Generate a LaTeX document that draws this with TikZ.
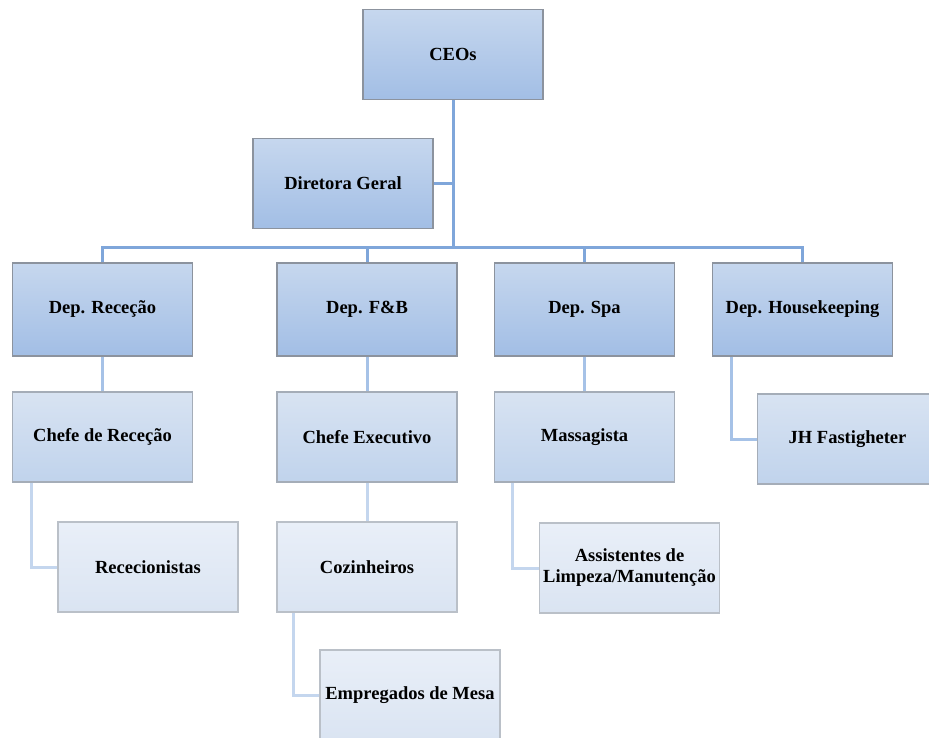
\documentclass[tikz,border=0pt]{standalone}
\usepackage{fontspec}
\setmainfont{Liberation Serif}
\definecolor{boxtopA}{HTML}{C6D7EE}
\definecolor{boxbotA}{HTML}{A2BEE5}
\definecolor{boxtopB}{HTML}{D8E3F2}
\definecolor{boxbotB}{HTML}{C0D3EC}
\definecolor{boxtopC}{HTML}{E9EFF8}
\definecolor{boxbotC}{HTML}{DAE4F2}
\definecolor{edgeA}{HTML}{8C939E}
\definecolor{edgeB}{HTML}{A5ADB8}
\definecolor{edgeC}{HTML}{BAC0C8}
\definecolor{lineA}{HTML}{7FA6DA}
\definecolor{lineB}{HTML}{A6C2E7}
\definecolor{lineC}{HTML}{C4D6EE}
\begin{document}
\begin{tikzpicture}[x=1pt,y=-1pt,
	box/.style={rectangle,minimum width=180pt,minimum height=90pt,inner sep=2pt,align=center,line width=1.3pt,
		font=\fontsize{18.5}{21}\selectfont\bfseries},
	lvlA/.style={box,draw=edgeA,top color=boxtopA,bottom color=boxbotA},
	lvlB/.style={box,draw=edgeB,top color=boxtopB,bottom color=boxbotB},
	lvlC/.style={box,draw=edgeC,top color=boxtopC,bottom color=boxbotC},
	linkA/.style={draw=lineA,line width=3pt},
	linkB/.style={draw=lineB,line width=3pt},
	linkC/.style={draw=lineC,line width=3pt}]
		\useasboundingbox (0,0) rectangle (929,737);
		\begin{scope}
		\clip (0,0) rectangle (929,737);
		
		% top levels
		\node[lvlA] (ceo) at (453,54.5) {CEOs};
		\node[lvlA] (dir) at (343,183.5) {Diretora Geral};
		\coordinate (bus) at (453,247);
		
		% departments
		\node[lvlA, minimum height=93pt] (rec) at (102.5,309.5) {Dep. Receção};
		\node[lvlA, minimum height=93pt] (fb) at (367,309.5) {Dep. F\&B};
		\node[lvlA, minimum height=93pt] (spa) at (584.5,309.5) {Dep. Spa};
		\node[lvlA, minimum height=93pt] (hk) at (802.5,309.5) {Dep. Housekeeping};
		
		% second level
		\node[lvlB] (chrec) at (102.5,437) {Chefe de Receção};
		\node[lvlB] (chex) at (367,437) {Chefe Executivo};
		\node[lvlB] (mass) at (584.5,437) {Massagista};
		\node[lvlB] (jh) at (847.5,439) {JH Fastigheter};
		
		% third level
		\node[lvlC] (recc) at (148,567) {Rececionistas};
		\node[lvlC] (coz) at (367,567) {Cozinheiros};
		\node[lvlC] (assi) at (629.5,568) {Assistentes de\\Limpeza/Manutenção};
		\node[lvlC] (emp) at (410,695) {Empregados de Mesa};
		
		% connectors
		\draw[linkA] (ceo.south) -- (bus);
		\draw[linkA] (dir.east) -- (dir.east -| bus);
		\draw[linkA] (rec.north) -- (rec.north |- bus) -- (hk.north |- bus) -- (hk.north);
		\draw[linkA] (fb.north) -- (fb.north |- bus);
		\draw[linkA] (spa.north) -- (spa.north |- bus);
		
		\draw[linkB] (rec.south) -- (chrec.north);
		\draw[linkB] (fb.south) -- (chex.north);
		\draw[linkB] (spa.south) -- (mass.north);
		\draw[linkB] ([xshift=20pt]hk.south west) |- (jh.west);
		
		\draw[linkC] ([xshift=20pt]chrec.south west) |- (recc.west);
		\draw[linkC] (chex.south) -- (coz.north);
		\draw[linkC] ([xshift=19pt]mass.south west) |- (assi.west);
		\draw[linkC] ([xshift=17pt]coz.south west) |- (emp.west);
		\end{scope}
\end{tikzpicture}
\end{document}
